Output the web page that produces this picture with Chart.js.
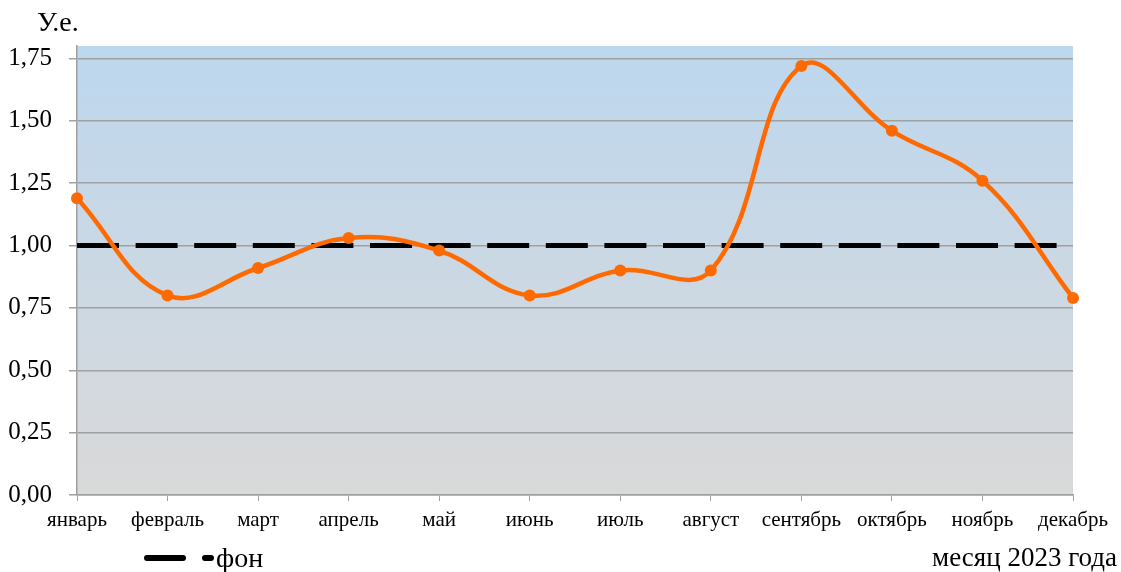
<!DOCTYPE html>
<html lang="ru">
<head>
    <meta charset="UTF-8">
    <title>У.е. по месяцам 2023 года</title>
    <script src="https://cdn.jsdelivr.net/npm/chart.js"></script>
    <style>
        html, body { margin: 0; padding: 0; background: #ffffff; }
        #wrap { width: 1121px; height: 572px; position: relative; }
    </style>
</head>
<body>
<div id="wrap"><canvas id="chart"></canvas></div>
<script>
    const months = ["январь", "февраль", "март", "апрель", "май", "июнь",
                    "июль", "август", "сентябрь", "октябрь", "ноябрь", "декабрь"];
    const values = [1.19, 0.80, 0.91, 1.03, 0.98, 0.80, 0.90, 0.90, 1.72, 1.46, 1.26, 0.79];
    const background = [1, 1, 1, 1, 1, 1, 1, 1, 1, 1, 1, 1];
    const yTicks = [0, 0.25, 0.5, 0.75, 1, 1.25, 1.5, 1.75];

    const serif = "'Liberation Serif', 'Times New Roman', serif";

    // gradient fill of the plot area + extra texts (units, legend, axis title)
    const decor = {
        id: "decor",
        beforeDraw(chart) {
            const a = chart.chartArea, ctx = chart.ctx;
            const g = ctx.createLinearGradient(0, a.top, 0, a.bottom);
            g.addColorStop(0, "#bdd7ee");
            g.addColorStop(1, "#d9d9d9");
            ctx.save();
            ctx.fillStyle = g;
            ctx.fillRect(a.left, a.top, a.right - a.left, a.bottom - a.top);
            ctx.restore();
        },
        afterDraw(chart) {
            const ctx = chart.ctx;
            ctx.save();
            ctx.fillStyle = "#000";
            ctx.textBaseline = "alphabetic";
            ctx.textAlign = "left";
            ctx.font = "28px " + serif;
            ctx.fillText("У.е.", 37, 31);

            // legend: dashed sample + label
            ctx.strokeStyle = "#000";
            ctx.lineWidth = 6;
            ctx.lineCap = "round";
            ctx.setLineDash([36, 22]);
            ctx.beginPath();
            ctx.moveTo(147, 558);
            ctx.lineTo(211, 558);
            ctx.stroke();
            ctx.setLineDash([]);
            ctx.fillText("фон", 216, 567);

            ctx.textAlign = "right";
            ctx.font = "27px " + serif;
            ctx.fillText("месяц 2023 года", 1117, 566);
            ctx.restore();
        }
    };

    new Chart(document.getElementById("chart"), {
        type: "line",
        data: {
            labels: months,
            datasets: [
                {
                    label: "фон",
                    data: background,
                    borderColor: "#000000",
                    borderWidth: 5,
                    borderDash: [42, 16.6],
                    pointRadius: 0,
                    tension: 0,
                    order: 2
                },
                {
                    label: "значение",
                    data: values,
                    borderColor: "#ff6a00",
                    backgroundColor: "#ff6a00",
                    borderWidth: 4.5,
                    pointRadius: 6,
                    pointBorderWidth: 0,
                    tension: 0.4,
                    order: 1
                }
            ]
        },
        options: {
            responsive: true,
            maintainAspectRatio: false,
            animation: false,
            layout: { padding: { top: 46, right: 48, left: 0, bottom: 0 } },
            plugins: {
                legend: { display: false },
                tooltip: { enabled: false }
            },
            scales: {
                x: {
                    offset: false,
                    afterFit(s) { s.height = 77; },
                    grid: {
                        drawOnChartArea: false,
                        drawTicks: true,
                        tickLength: 6,
                        color: "#a0a0a0"
                    },
                    border: { display: true, color: "#a0a0a0", width: 1.5 },
                    ticks: {
                        color: "#000",
                        font: { family: serif, size: 21 },
                        padding: 7,
                        maxRotation: 0,
                        autoSkip: false
                    }
                },
                y: {
                    min: 0,
                    max: 1.8,
                    afterFit(s) { s.width = 77; },
                    afterBuildTicks(s) { s.ticks = yTicks.map(v => ({ value: v })); },
                    grid: {
                        color: "#a0a0a0",
                        lineWidth: 1.5,
                        tickLength: 8
                    },
                    border: { display: true, color: "#a0a0a0", width: 1.5 },
                    ticks: {
                        color: "#000",
                        font: { family: serif, size: 25 },
                        padding: 17,
                        callback: v => v.toFixed(2).replace(".", ",")
                    }
                }
            }
        },
        plugins: [decor]
    });
</script>
</body>
</html>
